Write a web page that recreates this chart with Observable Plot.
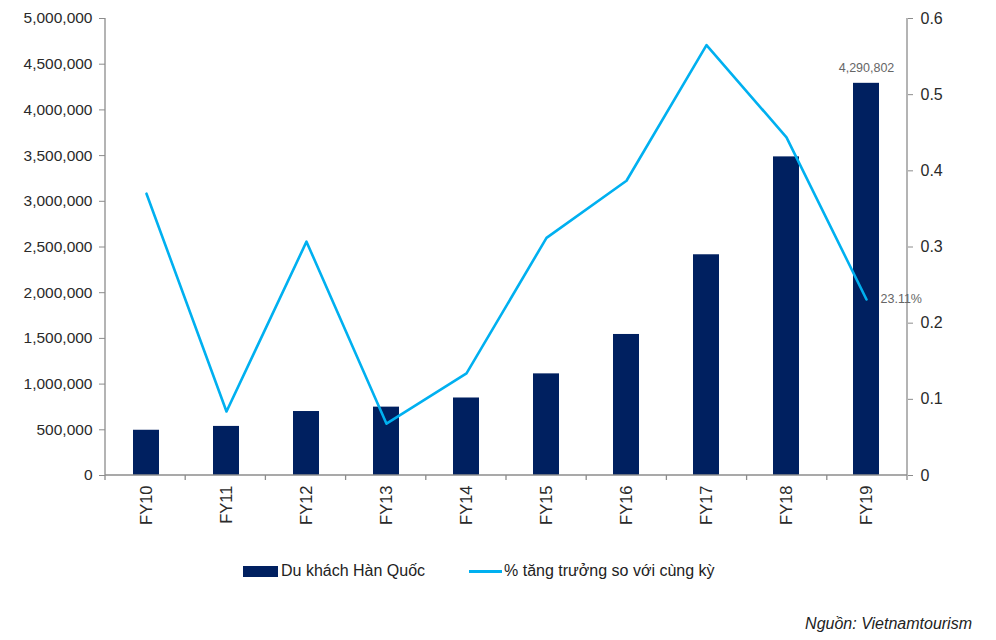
<!DOCTYPE html>
<html>
<head>
<meta charset="utf-8">
<script src="https://cdn.jsdelivr.net/npm/d3@7"></script>
<script src="https://cdn.jsdelivr.net/npm/@observablehq/plot@0.6"></script>
<style>
  html, body { margin: 0; padding: 0; background: #fff; }
  #wrap { position: relative; width: 996px; height: 640px; font-family: "Liberation Sans", Arial, sans-serif; }
  #chart { position: absolute; left: 0; top: 0; }
  .legend { position: absolute; top: 562px; left: 243px; display: flex; align-items: center; font-family: "Liberation Sans Narrow", "Liberation Sans", Arial, sans-serif; font-size: 16px; color: #222; }
  .legend .item { display: flex; align-items: center; margin-right: 44px; }
  .sw-bar { width: 35px; height: 11px; background: #002060; margin-right: 3px; }
  .sw-line { width: 33px; height: 3px; background: #00B0F0; margin-right: 2px; }
  .source { position: absolute; top: 615px; right: 24px; font-family: "Liberation Sans Narrow", "Liberation Sans", Arial, sans-serif; font-style: italic; font-size: 16px; color: #222; }
</style>
</head>
<body>
<div id="wrap">
  <div id="chart"></div>
  <div class="legend">
    <div class="item"><div class="sw-bar"></div><span id="lg1"></span></div>
    <div class="item"><div class="sw-line"></div><span id="lg2"></span></div>
  </div>
  <div class="source" id="src"></div>
</div>
<script>
const categories = ["FY10","FY11","FY12","FY13","FY14","FY15","FY16","FY17","FY18","FY19"];
const visitors = [495000, 537000, 700000, 748000, 848000, 1112000, 1543000, 2415000, 3486000, 4290802];
const growth = [0.370, 0.084, 0.307, 0.068, 0.134, 0.312, 0.387, 0.565, 0.444, 0.2311];
const leftTicks = [0,500000,1000000,1500000,2000000,2500000,3000000,3500000,4000000,4500000,5000000];
const rightTicks = [0,0.1,0.2,0.3,0.4,0.5,0.6];
const seriesNames = ["Du khách Hàn Quốc", "% tăng trưởng so với cùng kỳ"];
const sourceText = "Nguồn: Vietnamtourism";

const k = 5000000 / 0.6;
const data = categories.map((c, i) => ({year: c, visitors: visitors[i], growth: growth[i]}));
const last = [data[data.length - 1]];

document.getElementById("lg1").textContent = seriesNames[0];
document.getElementById("lg2").textContent = seriesNames[1];
document.getElementById("src").textContent = sourceText;

const axisColor = "#8c8c8c";

function frameLines(index, scales, values, dims) {
  const ns = "http://www.w3.org/2000/svg";
  const g = document.createElementNS(ns, "g");
  const x0 = dims.marginLeft, x1 = dims.width - dims.marginRight;
  const y0 = dims.marginTop, y1 = dims.height - dims.marginBottom;
  const line = (a, b, c, d) => {
    const l = document.createElementNS(ns, "line");
    l.setAttribute("x1", a); l.setAttribute("y1", b);
    l.setAttribute("x2", c); l.setAttribute("y2", d);
    l.setAttribute("stroke", axisColor);
    l.setAttribute("stroke-width", 1.3);
    g.appendChild(l);
  };
  line(x0, y0, x0, y1);
  line(x1, y0, x1, y1);
  line(x0, y1, x1, y1);
  const n = categories.length;
  const bw = (x1 - x0) / n;
  for (let i = 0; i <= n; i++) {
    const xx = x0 + i * bw;
    line(xx, y1, xx, y1 + 5);
  }
  return g;
}

const chart = Plot.plot({
  width: 996,
  height: 540,
  marginLeft: 105,
  marginRight: 89,
  marginTop: 18,
  marginBottom: 65,
  style: {fontFamily: "'Liberation Sans', Arial, sans-serif", color: "#333", background: "#fff"},
  x: {type: "band", domain: categories, padding: 0},
  y: {domain: [0, 5000000]},
  marks: [
    Plot.barY(data, {x: "year", y: "visitors", fill: "#002060", insetLeft: 27, insetRight: 27}),
    Plot.line(data, {x: "year", y: d => d.growth * k, stroke: "#00B0F0", strokeWidth: 2.6}),
    frameLines,
    Plot.axisY(leftTicks, {anchor: "left", tickFormat: d3.format(","), tickSize: 6, tickPadding: 7, fontSize: 15.5, stroke: axisColor, fill: "#2a2a2a", label: null}),
    Plot.axisY(rightTicks.map(t => t * k), {anchor: "right", tickFormat: d => String(+(d / k).toFixed(1)), tickSize: 5, tickPadding: 8, fontSize: 16, stroke: axisColor, fill: "#2a2a2a", label: null}),
    Plot.axisX({tickRotate: -90, tickSize: 0, tickPadding: 10, fontSize: 16.5, fill: "#2a2a2a", label: null}),
    Plot.text(last, {x: "year", y: "visitors", text: d => d3.format(",")(d.visitors), dy: -15, fill: "#666", fontSize: 12.5}),
    Plot.text(last, {x: "year", y: d => d.growth * k, text: d => (d.growth * 100).toFixed(2) + "%", dx: 14, textAnchor: "start", fill: "#666", fontSize: 12.5})
  ]
});
document.getElementById("chart").appendChild(chart);
</script>
</body>
</html>
